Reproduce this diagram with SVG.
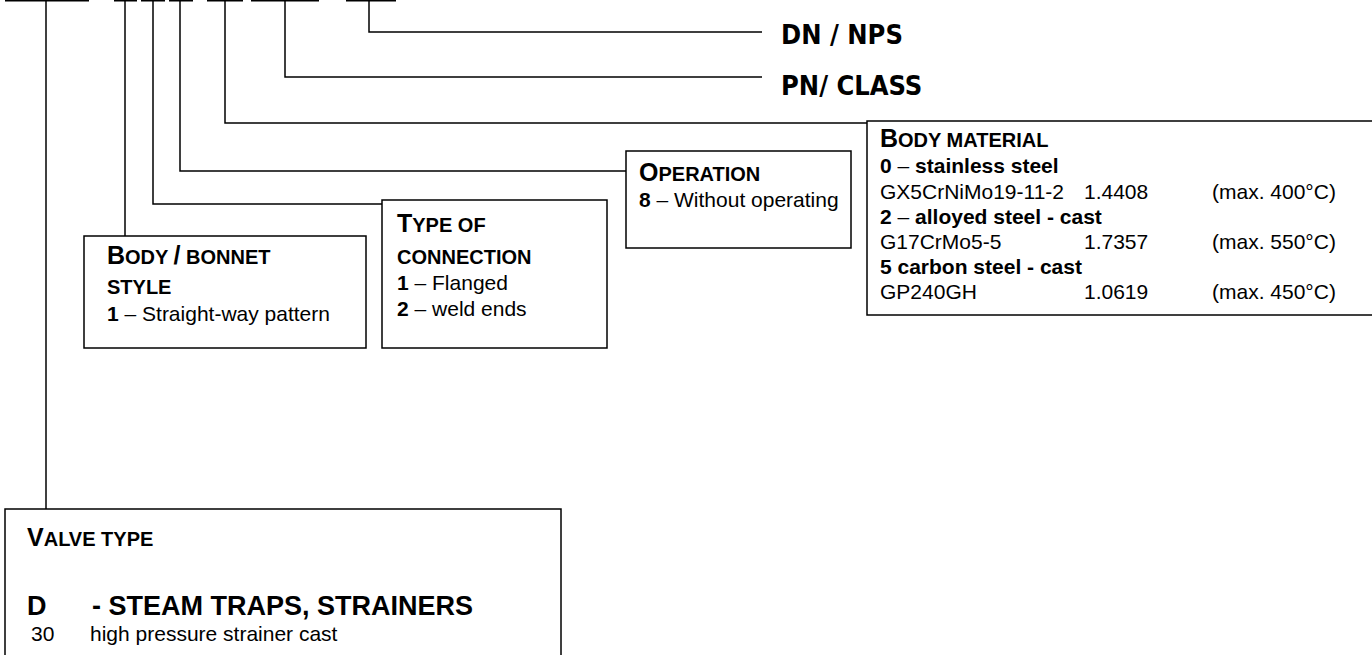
<svg xmlns="http://www.w3.org/2000/svg" width="1372" height="655" viewBox="0 0 1372 655">
<style>
.ln{stroke:#000;stroke-width:1.5;fill:none}
.bx{stroke:#000;stroke-width:1.5;fill:#fff}
.t{font-family:"Liberation Sans",Arial,sans-serif;font-size:21px;fill:#000}
.b{font-weight:bold}
.big{font-size:25px;font-weight:bold}
.sc{font-size:20px;font-weight:bold}
.hd{font-family:"DejaVu Sans Condensed","DejaVu Sans",sans-serif;font-stretch:condensed;font-weight:bold;font-size:27px;fill:#000}
.vt{font-size:27px;font-weight:bold}
</style>
<rect width="1372" height="655" fill="#fff"/>
<g id="connectors">
<path class="ln" d="M5 0.75H89M114 0.75H137M141 0.75H165M169 0.75H193M207 0.75H243M251 0.75H319M346 0.75H396"/>
<path class="ln" d="M46 0V509"/>
<path class="ln" d="M125 0V236"/>
<path class="ln" d="M153 0V204H382"/>
<path class="ln" d="M180 0V171H626"/>
<path class="ln" d="M225 0V123H867"/>
<path class="ln" d="M285 0V77H762"/>
<path class="ln" d="M369 0V32H762"/>
</g>
<g id="dn-nps"><text class="hd" x="781" y="44">DN / NPS</text></g>
<g id="pn-class"><text class="hd" x="781" y="95">PN/ CLASS</text></g>
<g id="body-material">
<rect class="bx" x="867" y="121" width="520" height="194"/>
<text class="t" x="880" y="147"><tspan class="big">B</tspan><tspan class="sc">ODY MATERIAL</tspan></text>
<text class="t" x="880" y="173"><tspan class="b">0</tspan> – <tspan class="b">stainless steel</tspan></text>
<text class="t" x="880" y="199">GX5CrNiMo19-11-2</text><text class="t" x="1084" y="199">1.4408</text><text class="t" x="1212" y="199">(max. 400°C)</text>
<text class="t" x="880" y="224"><tspan class="b">2</tspan> – <tspan class="b">alloyed steel - cast</tspan></text>
<text class="t" x="880" y="249">G17CrMo5-5</text><text class="t" x="1084" y="249">1.7357</text><text class="t" x="1212" y="249">(max. 550°C)</text>
<text class="t b" x="880" y="274">5 carbon steel - cast</text>
<text class="t" x="880" y="299">GP240GH</text><text class="t" x="1084" y="299">1.0619</text><text class="t" x="1212" y="299">(max. 450°C)</text>
</g>
<g id="operation">
<rect class="bx" x="626" y="151" width="225" height="97"/>
<text class="t" x="639" y="181"><tspan class="big">O</tspan><tspan class="sc">PERATION</tspan></text>
<text class="t" x="639" y="207"><tspan class="b">8</tspan> – Without operating</text>
</g>
<g id="type-of-connection">
<rect class="bx" x="382" y="200" width="225" height="148"/>
<text class="t" x="397" y="232"><tspan class="big">T</tspan><tspan class="sc">YPE OF</tspan></text>
<text class="t sc" x="397" y="264">CONNECTION</text>
<text class="t" x="397" y="290"><tspan class="b">1</tspan> – Flanged</text>
<text class="t" x="397" y="316"><tspan class="b">2</tspan> – weld ends</text>
</g>
<g id="body-bonnet-style">
<rect class="bx" x="84" y="236" width="282" height="112"/>
<text class="t" x="107" y="264"><tspan class="big">B</tspan><tspan class="sc">ODY </tspan><tspan class="big">/</tspan><tspan class="sc"> BONNET</tspan></text>
<text class="t sc" x="107" y="294">STYLE</text>
<text class="t" x="107" y="321"><tspan class="b">1</tspan> – Straight-way pattern</text>
</g>
<g id="valve-type">
<rect class="bx" x="5" y="509" width="556" height="160"/>
<text class="t" x="27" y="546"><tspan class="big">V</tspan><tspan class="sc">ALVE TYPE</tspan></text>
<text class="t vt" x="27" y="615">D</text>
<text class="t vt" x="92" y="615">- STEAM TRAPS, STRAINERS</text>
<text class="t" x="31" y="641">30</text>
<text class="t" x="90" y="641">high pressure strainer cast</text>
</g>
</svg>
